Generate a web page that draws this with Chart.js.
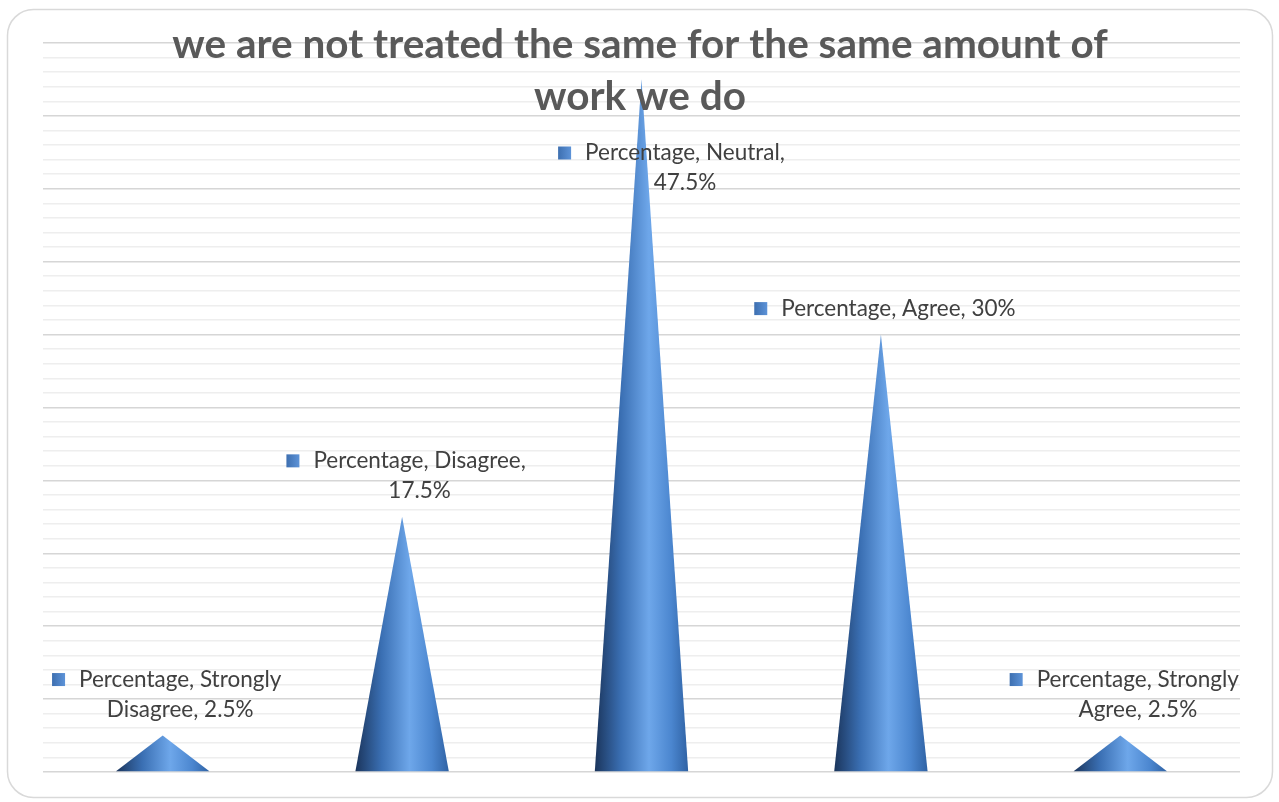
<!DOCTYPE html>
<html><head><meta charset="utf-8">
<script src="https://cdn.jsdelivr.net/npm/chart.js@4.4.1/dist/chart.umd.min.js"></script>
<style>html,body{margin:0;padding:0;background:#fff;} #wrap{position:relative;width:1279px;height:802px;}</style>
</head><body><div id="wrap"><canvas id="c"></canvas></div>
<script>
const seriesName = 'Percentage';
const categories = ['Strongly Disagree', 'Disagree', 'Neutral', 'Agree', 'Strongly Agree'];
const values = [2.5, 17.5, 47.5, 30, 2.5];
const valueLabels = ['2.5%', '17.5%', '47.5%', '30%', '2.5%'];
const titleLines = ['we are not treated the same for the same amount of', 'work we do'];
const yMin = 0, yMax = 50, majorStep = 5, minorStep = 1;

const LABEL_FONT = '22.5px Lato, "Open Sans", sans-serif';
const TITLE_FONT = 'bold 40.5px Lato, "Open Sans", sans-serif';

const frame = {
  id: 'frame',
  beforeDraw(chart) {
    const c = chart.ctx;
    c.save();
    c.fillStyle = '#fff';
    c.fillRect(0, 0, chart.width, chart.height);
    c.strokeStyle = '#d9d9d9';
    c.lineWidth = 1.5;
    c.beginPath();
    c.roundRect(7.5, 9.5, 1265, 788, 26);
    c.stroke();
    c.restore();
  }
};

const cones = {
  id: 'cones',
  afterDatasetsDraw(chart) {
    const c = chart.ctx;
    const meta = chart.getDatasetMeta(0);
    c.save();
    meta.data.forEach(el => {
      const p = el.getProps(['x', 'y', 'base', 'width'], true);
      const l = p.x - p.width / 2, r = p.x + p.width / 2;
      const g = c.createLinearGradient(l, 0, r, 0);
      g.addColorStop(0, '#1b355c');
      g.addColorStop(0.28, '#3a6fb3');
      g.addColorStop(0.58, '#6ea7ea');
      g.addColorStop(0.82, '#4b86cf');
      g.addColorStop(1, '#2f62a4');
      c.fillStyle = g;
      c.beginPath();
      c.moveTo(l, p.base);
      c.lineTo(p.x, p.y);
      c.lineTo(r, p.base);
      c.closePath();
      c.fill();
    });
    c.restore();
  }
};

function wrapWords(c, text, maxW) {
  const words = text.split(' ');
  const lines = [];
  let cur = '';
  words.forEach(w => {
    const t = cur ? cur + ' ' + w : w;
    if (cur && c.measureText(t).width > maxW) { lines.push(cur); cur = w; }
    else cur = t;
  });
  if (cur) lines.push(cur);
  return lines;
}

const labelsAndTitle = {
  id: 'labelsAndTitle',
  afterDraw(chart) {
    const c = chart.ctx;
    const meta = chart.getDatasetMeta(0);
    c.save();
    // title
    c.font = TITLE_FONT;
    c.fillStyle = '#595959';
    c.textAlign = 'center';
    c.textBaseline = 'alphabetic';
    titleLines.forEach((t, i) => c.fillText(t, 640, 58 + i * 52));
    // data labels
    c.font = LABEL_FONT;
    c.textBaseline = 'middle';
    const lineH = 30, sq = 13, gap = 14;
    meta.data.forEach((el, i) => {
      const p = el.getProps(['x', 'y'], true);
      const text = seriesName + ', ' + categories[i] + ', ' + valueLabels[i];
      const lines = wrapWords(c, text, 250);
      const tw = Math.max(...lines.map(s => c.measureText(s).width));
      let cx = p.x + 4;
      let lastY = p.y - 26;
      let firstY = lastY - (lines.length - 1) * lineH;
      if (firstY < 140) { firstY = 153; cx += 26; }
      const blockW = sq + gap + tw;
      const left = cx - blockW / 2;
      const textCx = left + sq + gap + tw / 2;
      const sg = c.createLinearGradient(left, 0, left + sq, 0);
      sg.addColorStop(0, '#3d6fb0'); sg.addColorStop(1, '#5d93d8');
      c.fillStyle = sg;
      c.fillRect(left, firstY - sq / 2, sq, sq);
      c.fillStyle = '#404040';
      c.textAlign = 'center';
      lines.forEach((s, j) => c.fillText(s, textCx, firstY + j * lineH));
    });
    c.restore();
  }
};

new Chart(document.getElementById('c'), {
  type: 'bar',
  data: {
    labels: categories,
    datasets: [{
      label: seriesName,
      data: values,
      backgroundColor: 'rgba(0,0,0,0)',
      borderWidth: 0,
      barPercentage: 0.39,
      categoryPercentage: 1
    }]
  },
  options: {
    responsive: true,
    maintainAspectRatio: false,
    animation: false,
    layout: { padding: { left: 43, right: 39, top: 43, bottom: 30 } },
    plugins: { legend: { display: false }, tooltip: { enabled: false }, title: { display: false } },
    scales: {
      x: { display: false },
      y: {
        min: yMin, max: yMax,
        border: { display: false },
        ticks: { display: false, stepSize: minorStep, autoSkip: false, maxTicksLimit: 1000 },
        grid: {
          drawTicks: false,
          color: ctx => (ctx.tick && ctx.tick.value % majorStep === 0) ? '#d6d6d6' : '#eeeeee',
          lineWidth: 1.6
        }
      }
    }
  },
  plugins: [frame, cones, labelsAndTitle]
});
</script>
</body></html>
